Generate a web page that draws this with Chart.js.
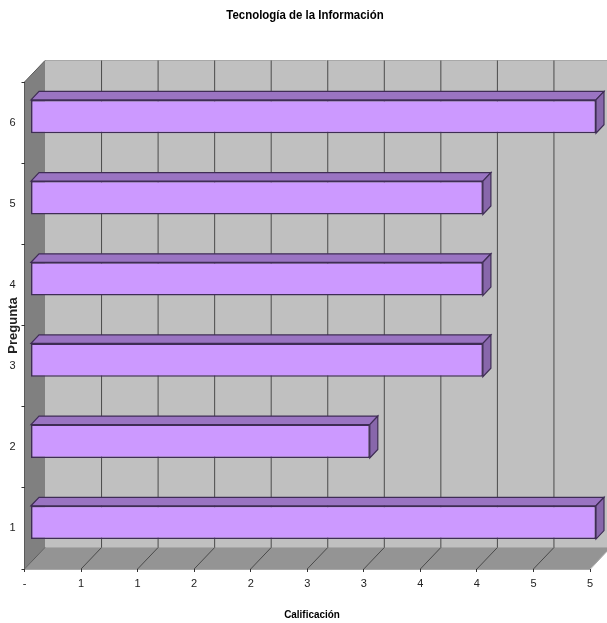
<!DOCTYPE html>
<html>
<head>
<meta charset="utf-8">
<style>
  html, body { margin: 0; padding: 0; background: #fff; }
  #wrap { width: 607px; height: 623px; position: relative; }
</style>
<script src="https://cdn.jsdelivr.net/npm/chart.js@4"></script>
</head>
<body>
<div id="wrap"><canvas id="c"></canvas></div>
<script>
const chartTitle = 'Tecnología de la Información';
const xAxisTitle = 'Calificación';
const yAxisTitle = 'Pregunta';
const preguntas = ['1', '2', '3', '4', '5', '6'];
const calificaciones = [5, 3, 4, 4, 4, 5];

// Box depth of the plot and of each bar, as a screen offset
const WALL_DX = 20.5, WALL_DY = 21.5;
const BAR_DX = 8, BAR_DY = 8.5;
const BAR_SHIFT_X = 6, BAR_SHIFT_Y = 6;

function poly(ctx, pts, fill, stroke, width) {
  ctx.beginPath();
  pts.forEach((p, i) => i ? ctx.lineTo(p[0], p[1]) : ctx.moveTo(p[0], p[1]));
  ctx.closePath();
  if (fill) { ctx.fillStyle = fill; ctx.fill(); }
  if (stroke) { ctx.strokeStyle = stroke; ctx.lineWidth = width || 1; ctx.stroke(); }
}

// Bold heading squeezed horizontally, as the headings use a condensed face
function squeezedText(ctx, text, cx, cy, size, squeeze) {
  ctx.save();
  ctx.translate(cx, cy);
  ctx.scale(squeeze, 1);
  ctx.font = 'bold ' + size + 'px "Liberation Sans"';
  ctx.fillStyle = '#000';
  ctx.textAlign = 'center';
  ctx.textBaseline = 'middle';
  ctx.fillText(text, 0, 0);
  ctx.restore();
}

const box3d = {
  id: 'box3d',
  // Back wall, side wall, floor and the grid that folds across them
  beforeDraw(chart) {
    const { ctx, chartArea: a, scales } = chart;
    const l = a.left, r = a.right, t = a.top, b = a.bottom;
    ctx.save();
    poly(ctx, [[l + WALL_DX, t - WALL_DY], [r + WALL_DX, t - WALL_DY], [r + WALL_DX, b - WALL_DY], [l + WALL_DX, b - WALL_DY]], '#c0c0c0');
    poly(ctx, [[l, t], [l + WALL_DX, t - WALL_DY], [l + WALL_DX, b - WALL_DY], [l, b]], '#808080');
    poly(ctx, [[l, b], [l + WALL_DX, b - WALL_DY], [r + WALL_DX, b - WALL_DY], [r, b]], '#949494');

    ctx.strokeStyle = '#a8a8a8';
    ctx.lineWidth = 1;
    ctx.beginPath();
    ctx.moveTo(l + WALL_DX, t - WALL_DY); ctx.lineTo(r + WALL_DX, t - WALL_DY);
    ctx.moveTo(l, b + 0.5); ctx.lineTo(r, b + 0.5);
    ctx.lineTo(r + WALL_DX, b - WALL_DY);
    ctx.moveTo(l + WALL_DX, b - WALL_DY); ctx.lineTo(r + WALL_DX, b - WALL_DY);
    ctx.stroke();

    ctx.strokeStyle = '#4a4a4a';
    ctx.beginPath();
    scales.x.ticks.forEach((tick, i) => {
      if (i === 0 || i === scales.x.ticks.length - 1) return;
      const px = scales.x.getPixelForTick(i);
      ctx.moveTo(px, b);
      ctx.lineTo(px + WALL_DX, b - WALL_DY);
      ctx.lineTo(px + WALL_DX, t - WALL_DY);
    });
    ctx.stroke();

    ctx.strokeStyle = '#5a5a5a';
    ctx.beginPath();
    ctx.moveTo(l, t); ctx.lineTo(l + WALL_DX, t - WALL_DY);
    ctx.moveTo(l, b); ctx.lineTo(l + WALL_DX, b - WALL_DY);
    ctx.moveTo(l, t); ctx.lineTo(l, b);
    ctx.stroke();
    ctx.restore();

    squeezedText(ctx, chartTitle, 305, 15, 13, 0.88);
    squeezedText(ctx, xAxisTitle, 312, 615, 11, 0.9);
  },
  // Top and end faces of each bar, then move the fronts onto their depth plane
  beforeDatasetsDraw(chart) {
    const ctx = chart.ctx;
    ctx.save();
    ctx.translate(BAR_SHIFT_X, -BAR_SHIFT_Y);
    chart.getDatasetMeta(0).data.forEach(bar => {
      const { x, y, base, height } = bar.getProps(['x', 'y', 'base', 'height'], true);
      const top = y - height / 2, bot = y + height / 2;
      poly(ctx, [[base, top], [base + BAR_DX, top - BAR_DY], [x + BAR_DX, top - BAR_DY], [x, top]], '#9a74c2', '#3f2d55', 1.2);
      poly(ctx, [[x, top], [x + BAR_DX, top - BAR_DY], [x + BAR_DX, bot - BAR_DY], [x, bot]], '#8867ab', '#3f2d55', 1.2);
    });
  },
  afterDatasetsDraw(chart) {
    chart.ctx.restore();
  }
};

new Chart(document.getElementById('c'), {
  type: 'bar',
  data: {
    labels: preguntas,
    datasets: [{
      data: calificaciones,
      backgroundColor: '#cc99ff',
      borderColor: '#3f2d55',
      borderWidth: 1.5,
      borderSkipped: false,
      barPercentage: 0.41,
      categoryPercentage: 1,
      clip: false
    }]
  },
  plugins: [box3d],
  options: {
    indexAxis: 'y',
    responsive: true,
    maintainAspectRatio: false,
    animation: false,
    events: [],
    layout: { padding: { left: 0, right: 17, top: 82, bottom: 0 } },
    plugins: {
      legend: { display: false },
      tooltip: { enabled: false }
    },
    scales: {
      x: {
        type: 'linear',
        min: 0,
        max: 5,
        afterFit(s) { s.height = 54; },
        ticks: {
          stepSize: 0.5,
          maxRotation: 0,
          autoSkip: false,
          padding: 5,
          color: '#222',
          font: { family: '"Liberation Sans"', size: 11 },
          callback: v => v === 0 ? '-' : String(Math.round(v + 0.001))
        },
        grid: { drawOnChartArea: false, drawTicks: true, tickLength: 3, color: '#333' },
        border: { display: false }
      },
      y: {
        type: 'category',
        reverse: true,
        afterFit(s) { s.width = 24.5; },
        ticks: {
          padding: 6,
          color: '#222',
          font: { family: '"Liberation Sans"', size: 11 }
        },
        grid: { drawOnChartArea: false, drawTicks: true, tickLength: 3, color: '#333' },
        border: { display: false },
        title: {
          display: true,
          text: yAxisTitle,
          color: '#222',
          font: { family: '"Liberation Sans"', size: 13, weight: 'bold' },
          padding: { top: 6, bottom: 0 }
        }
      }
    }
  }
});
</script>
</body>
</html>
